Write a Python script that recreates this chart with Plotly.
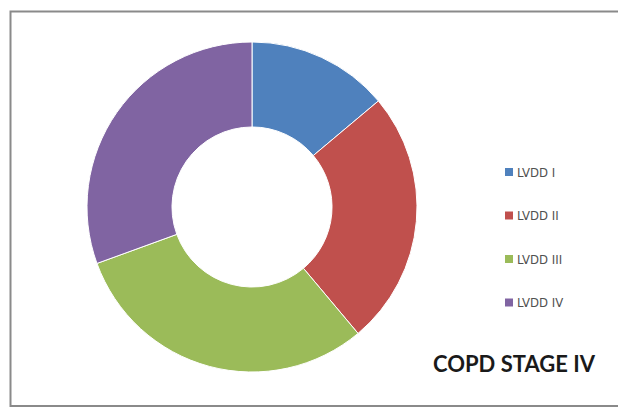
import plotly.graph_objects as go

# LVDD grade distribution among COPD stage IV patients
labels = ["LVDD I", "LVDD II", "LVDD III", "LVDD IV"]
values = [5, 9, 11, 11]
colors = ["#4F81BD", "#C0504D", "#9BBB59", "#8064A2"]
title_text = "COPD STAGE IV"

W, H = 618, 419


def px_x(x):
    return x / W


def px_y(y):
    return 1 - y / H


# donut placement (pixels)
cx, cy, r = 252, 207, 165

fig = go.Figure(
    go.Pie(
        labels=labels,
        values=values,
        hole=0.485,
        sort=False,
        direction="clockwise",
        rotation=0,
        textinfo="none",
        marker=dict(colors=colors, line=dict(color="white", width=1)),
        domain=dict(x=[px_x(cx - r), px_x(cx + r)], y=[px_y(cy + r), px_y(cy - r)]),
        showlegend=False,
    )
)

# chart frame: open path along top, left and bottom edges
fx0, fy0, fy1 = px_x(10.5), px_y(11.5), px_y(406)
frame_path = f"M 1,{fy0} L {fx0},{fy0} L {fx0},{fy1} L 1,{fy1}"
shapes = [
    dict(type="path", xref="paper", yref="paper", path=frame_path,
         line=dict(color="#8a8a8a", width=2)),
]
annotations = []

# legend: swatch + label per category
leg_x, leg_y0, leg_dy = 509, 172, 43.5
for i, (lab, col) in enumerate(zip(labels, colors)):
    yy = leg_y0 + i * leg_dy
    shapes.append(dict(type="rect", xref="paper", yref="paper",
                       x0=px_x(leg_x - 4), x1=px_x(leg_x + 4),
                       y0=px_y(yy + 4), y1=px_y(yy - 4),
                       line=dict(width=0), fillcolor=col))
    annotations.append(dict(text=lab, xref="paper", yref="paper",
                            x=px_x(leg_x + 6), y=px_y(yy), xanchor="left", yanchor="middle",
                            showarrow=False,
                            font=dict(family="DejaVu Sans Condensed, sans-serif",
                                      size=13, color="#505050")))

annotations.append(dict(text="<b>" + title_text + "</b>", xref="paper", yref="paper",
                        x=px_x(514), y=px_y(363), xanchor="center", yanchor="middle",
                        showarrow=False,
                        font=dict(family="Lato, Arial, sans-serif", size=22, color="#1a1a1a")))

fig.update_layout(
    width=W, height=H,
    margin=dict(l=0, r=0, t=0, b=0),
    paper_bgcolor="white", plot_bgcolor="white",
    shapes=shapes, annotations=annotations,
)

fig.write_html("out.html")
